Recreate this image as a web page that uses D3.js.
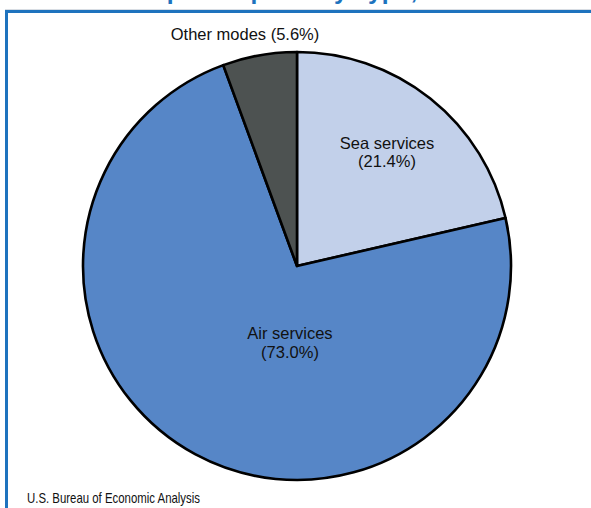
<!DOCTYPE html>
<html>
<head>
<meta charset="utf-8">
<script src="https://cdn.jsdelivr.net/npm/d3@7"></script>
<style>
  html, body { margin: 0; padding: 0; background: #fff; }
  svg { display: block; }
</style>
</head>
<body>
<svg id="chart" width="591" height="508"></svg>
<script>
const titleText = "Transport Imports by Type, 2012";
const sourceText = "U.S. Bureau of Economic Analysis";
const categories = ["Sea services", "Air services", "Other modes"];
const values = [21.4, 73.0, 5.6];
const colors = ["#c2d0ea", "#5686c7", "#4d5251"];

const svg = d3.select("#chart");
const W = 591, H = 508;
const cx = 297, cy = 266, R = 214;

// title (cropped at top, as in the reference)
svg.append("text")
  .attr("x", 290).attr("y", -1)
  .attr("text-anchor", "middle")
  .attr("font-family", "Liberation Sans, Arial, sans-serif")
  .attr("font-weight", "bold")
  .attr("font-size", 24.7)
  .attr("fill", "#1e73be")
  .text(titleText);

// frame
svg.append("line").attr("x1", 5).attr("x2", W).attr("y1", 9.5).attr("y2", 9.5)
  .attr("stroke", "#d8dde3").attr("stroke-width", 1);
svg.append("rect")
  .attr("x", 6.5).attr("y", 11.5)
  .attr("width", W + 20).attr("height", H + 20)
  .attr("fill", "none")
  .attr("stroke", "#1e73be")
  .attr("stroke-width", 3);

const data = categories.map((c, i) => ({ name: c, value: values[i], color: colors[i] }));
const pie = d3.pie().sort(null).value(d => d.value);
const arcs = pie(data);
const arc = d3.arc().innerRadius(0).outerRadius(R);

const g = svg.append("g").attr("transform", `translate(${cx},${cy})`);
g.selectAll("path").data(arcs).join("path")
  .attr("d", arc)
  .attr("fill", d => d.data.color)
  .attr("stroke", "#000")
  .attr("stroke-width", 2.6)
  .attr("stroke-linejoin", "round");

const font = "Liberation Sans, Arial, sans-serif";
function label(lines, x, y, dy) {
  const t = svg.append("text")
    .attr("text-anchor", "middle")
    .attr("font-family", font)
    .attr("font-size", 16.5)
    .attr("fill", "#111");
  lines.forEach((l, i) => {
    t.append("tspan").attr("x", x).attr("y", y + i * dy).text(l);
  });
}
const fmt = v => "(" + d3.format(".1f")(v) + "%)";
label([categories[0], fmt(values[0])], 387, 149, 18);
label([categories[1], fmt(values[1])], 290, 339, 19);
label([categories[2] + " " + fmt(values[2])], 245, 40, 0);

svg.append("text")
  .attr("x", 27).attr("y", 503)
  .attr("font-family", font)
  .attr("font-size", 15)
  .attr("textLength", 173)
  .attr("lengthAdjust", "spacingAndGlyphs")
  .attr("fill", "#111")
  .text(sourceText);
</script>
</body>
</html>
